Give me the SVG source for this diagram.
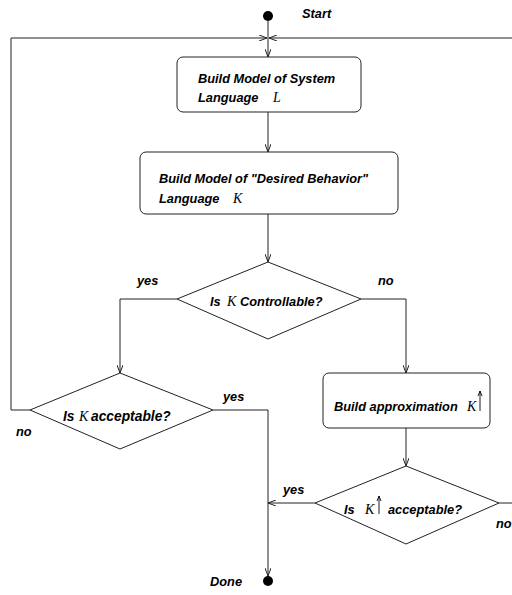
<svg xmlns="http://www.w3.org/2000/svg" width="512" height="595" viewBox="0 0 512 595">
  <defs>
    <marker id="arr" viewBox="0 0 8 6" refX="8" refY="3" markerWidth="8" markerHeight="6" markerUnits="userSpaceOnUse" orient="auto">
      <path d="M0,0 L8,3 L0,6" fill="none" stroke="#222" stroke-width="1"/>
    </marker>
  </defs>
  <style>
    .node { fill: #fff; stroke: #222; stroke-width: 1; }
    .edge { fill: none; stroke: #222; stroke-width: 1; }
    .lbl { font-family: "Liberation Sans", Arial, sans-serif; font-weight: bold; font-style: italic; font-size: 12.8px; fill: #000; }
    .big { font-size: 13.8px; }
    .math { font-family: "Liberation Serif", "Times New Roman", serif; font-style: italic; font-size: 14px; fill: #000; }
    .dot { fill: #000; }
    .up { fill: none; stroke: #000; stroke-width: 0.9; }
  </style>

  <!-- connectors -->
  <g id="edges">
    <path class="edge" d="M268,21 V57" marker-end="url(#arr)"/>
    <path class="edge" d="M30,410 H11 V38 H267" marker-end="url(#arr)"/>
    <path class="edge" d="M499,503 H516 V38 H269" marker-end="url(#arr)"/>
    <path class="edge" d="M268,112 V152" marker-end="url(#arr)"/>
    <path class="edge" d="M268,214 V262" marker-end="url(#arr)"/>
    <path class="edge" d="M177,299 H120 V373" marker-end="url(#arr)"/>
    <path class="edge" d="M361,299 H406 V373" marker-end="url(#arr)"/>
    <path class="edge" d="M213,410 H268 V576" marker-end="url(#arr)"/>
    <path class="edge" d="M406,428 V466" marker-end="url(#arr)"/>
    <path class="edge" d="M315,503 H268" marker-end="url(#arr)"/>
    <text class="lbl" x="137" y="285">yes</text>
    <text class="lbl" x="378" y="285">no</text>
    <text class="lbl" x="223" y="401">yes</text>
    <text class="lbl" x="16" y="436">no</text>
    <text class="lbl" x="283" y="494">yes</text>
    <text class="lbl" x="496" y="528">no</text>
  </g>

  <g id="start">
    <circle class="dot" cx="268" cy="16" r="5"/>
    <text class="lbl" x="302" y="18">Start</text>
  </g>

  <g id="model-system">
    <rect class="node" x="177" y="57" width="184" height="55" rx="6"/>
    <text class="lbl" x="198" y="83">Build Model of System</text>
    <text class="lbl" x="198" y="102">Language</text>
    <text class="math" x="273" y="102">L</text>
  </g>

  <g id="model-desired">
    <rect class="node" x="140" y="152" width="258" height="62" rx="6"/>
    <text class="lbl" x="159" y="183">Build Model of "Desired Behavior"</text>
    <text class="lbl" x="159" y="203">Language</text>
    <text class="math" x="233" y="203">K</text>
  </g>

  <g id="controllable">
    <polygon class="node" points="268,262 361,299 268,339 177,299"/>
    <text class="lbl" x="210" y="306">Is</text>
    <text class="math" x="227" y="306">K</text>
    <text class="lbl" x="240" y="306">Controllable?</text>
  </g>

  <g id="k-acceptable">
    <polygon class="node" points="120,373 213,410 120,449 30,410"/>
    <text class="lbl big" x="63" y="421">Is</text>
    <text class="math" x="79" y="421">K</text>
    <text class="lbl big" x="91" y="421">acceptable?</text>
  </g>

  <g id="approximation">
    <rect class="node" x="323" y="373" width="167" height="55" rx="6"/>
    <text class="lbl" x="334" y="411">Build approximation</text>
    <text class="math" x="467" y="411">K</text>
    <path class="up" d="M480,411 V391 M478,396 L480,391 L482,396"/>
  </g>

  <g id="approx-acceptable">
    <polygon class="node" points="406,466 499,503 406,544 315,503"/>
    <text class="lbl" x="344" y="514">Is</text>
    <text class="math" x="365" y="514">K</text>
    <path class="up" d="M379,514 V496 M377,501 L379,496 L381,501"/>
    <text class="lbl" x="388" y="514">acceptable?</text>
  </g>

  <g id="done">
    <circle class="dot" cx="268" cy="581" r="5"/>
    <text class="lbl" x="210" y="586">Done</text>
  </g>
</svg>
